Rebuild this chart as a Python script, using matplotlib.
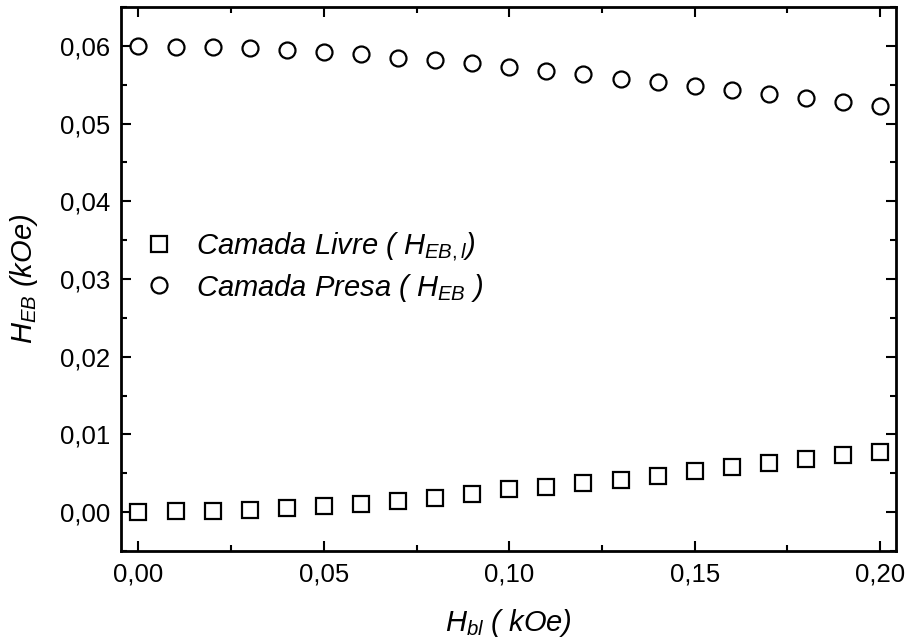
import numpy as np
import matplotlib
matplotlib.use("Agg")
import matplotlib.pyplot as plt
from matplotlib.ticker import MultipleLocator, FuncFormatter

plt.rcParams['font.family'] = ['Liberation Sans', 'DejaVu Sans']
plt.rcParams['mathtext.fontset'] = 'custom'
plt.rcParams['mathtext.rm'] = 'Liberation Sans'
plt.rcParams['mathtext.it'] = 'Liberation Sans:italic'

# campo de polarizacao (kOe)
h_bl = [0.00, 0.01, 0.02, 0.03, 0.04, 0.05, 0.06, 0.07, 0.08, 0.09, 0.10,
        0.11, 0.12, 0.13, 0.14, 0.15, 0.16, 0.17, 0.18, 0.19, 0.20]
# camada livre
heb_livre = [0.0000, 0.0001, 0.0002, 0.0003, 0.0005, 0.0008, 0.0011, 0.0014,
             0.0018, 0.0023, 0.0030, 0.0032, 0.0037, 0.0042, 0.0047, 0.0053,
             0.0058, 0.0063, 0.0068, 0.0073, 0.0078]
# camada presa
heb_presa = [0.0600, 0.0599, 0.0599, 0.0597, 0.0595, 0.0592, 0.0589, 0.0585,
             0.0582, 0.0578, 0.0573, 0.0568, 0.0564, 0.0558, 0.0553, 0.0548,
             0.0543, 0.0538, 0.0533, 0.0528, 0.0523]

fig = plt.figure(figsize=(9.08, 6.4), dpi=100)
ax = fig.add_axes([0.1333, 0.139, 0.8535, 0.850])

ax.plot(h_bl, heb_livre, 's', ms=11, mfc='none', mec='black', mew=1.6,
        label=r"Camada Livre ( $H_{EB,l}$)")
ax.plot(h_bl, heb_presa, 'o', ms=11.5, mfc='none', mec='black', mew=1.6,
        label=r"Camada Presa ( $H_{EB}$ )")

ax.set_xlim(-0.0047, 0.2043)
ax.set_ylim(-0.005, 0.065)
ax.xaxis.set_major_locator(MultipleLocator(0.05))
ax.xaxis.set_minor_locator(MultipleLocator(0.025))
ax.yaxis.set_major_locator(MultipleLocator(0.01))
ax.yaxis.set_minor_locator(MultipleLocator(0.005))
comma = FuncFormatter(lambda v, p: f"{v:.2f}".replace('.', ','))
ax.xaxis.set_major_formatter(comma)
ax.yaxis.set_major_formatter(comma)

ax.tick_params(which='both', direction='in', top=True, right=True, width=1.5,
               labelsize=18.5)
ax.tick_params(which='major', length=7, pad=8)
ax.tick_params(which='minor', length=4)
for s in ax.spines.values():
    s.set_linewidth(2)

ax.set_xlabel(r"$H_{bl}$ ( kOe)", fontsize=21, fontstyle='italic', labelpad=15)
ax.set_ylabel(r"$H_{EB}$ (kOe)", fontsize=21, fontstyle='italic', labelpad=14)

leg = ax.legend(loc='center left', bbox_to_anchor=(0.0315, 0.522), frameon=False,
                handlelength=0.95, handletextpad=0.78, labelspacing=0.28,
                borderpad=0, borderaxespad=0,
                prop={'style': 'italic', 'size': 21})

fig.savefig("out.png", dpi=100)
